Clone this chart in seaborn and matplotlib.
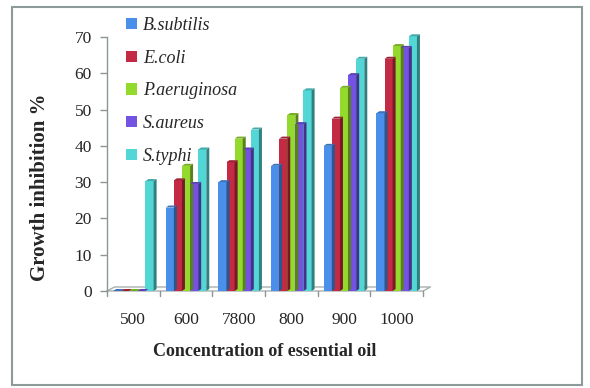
import numpy as np
import pandas as pd
import matplotlib
matplotlib.use("Agg")
import matplotlib.pyplot as plt
from matplotlib.patches import Polygon, Rectangle
import matplotlib.colors as mcolors
import seaborn as sns

concentrations = ["500", "600", "7800", "800", "900", "1000"]
organisms = ["B.subtilis", "E.coli", "P.aeruginosa", "S.aureus", "S.typhi"]
b_subtilis = [0, 23, 30, 34.5, 40, 49]
e_coli = [0, 30.5, 35.5, 42, 47.5, 64]
p_aeruginosa = [0, 34.5, 42, 48.5, 56, 67.5]
s_aureus = [0, 29.5, 39, 46, 59.5, 67]
s_typhi = [30.3, 39, 44.5, 55.3, 64, 70.2]
yticks = [0, 10, 20, 30, 40, 50, 60, 70]
colors = ["#4A8FEA", "#C42A44", "#94DA2C", "#7452E2", "#52D6D6"]

series = [b_subtilis, e_coli, p_aeruginosa, s_aureus, s_typhi]
df = pd.DataFrame({
    "conc": np.repeat([concentrations], len(organisms), axis=0).ravel(),
    "org": np.repeat(organisms, len(concentrations)),
    "val": np.concatenate(series),
})

sns.set_theme(style="white")
plt.rcParams["font.family"] = ["Liberation Serif", "DejaVu Serif"]

fig = plt.figure(figsize=(5.9, 3.88), dpi=100)
AX_W = 316
ax = fig.add_axes([107/590, 1-291/388, AX_W/590, 254/388])

sns.barplot(data=df, x="conc", y="val", hue="org", order=concentrations,
            hue_order=organisms, palette=colors, width=0.77, ax=ax,
            saturation=1, linewidth=0, legend=True)

ax.set_ylim(0, 70)
ax.set_xlim(-0.5, 5.5)

# 3D-ish side and top faces derived from each bar
px_x = 6 / float(AX_W)   # data units per pixel in x
px_y = 70 / 254.0
dx, dy = 3 * px_x, 2 * px_y
for p in list(ax.patches):
    if not isinstance(p, Rectangle):
        continue
    x0, w, h = p.get_x(), p.get_width(), p.get_height()
    if w <= 0:
        continue
    p.set_clip_on(False)
    fc = np.array(mcolors.to_rgb(p.get_facecolor()))
    side = Polygon([(x0 + w, 0), (x0 + w + dx, dy), (x0 + w + dx, h + dy), (x0 + w, h)],
                   closed=True, facecolor=fc * 0.6, edgecolor="none",
                   zorder=p.get_zorder(), clip_on=False)
    top = Polygon([(x0, h), (x0 + dx, h + dy), (x0 + w + dx, h + dy), (x0 + w, h)],
                  closed=True, facecolor=fc * 0.8, edgecolor="none",
                  zorder=p.get_zorder(), clip_on=False)
    ax.add_patch(side)
    ax.add_patch(top)

# floor outline
floor_c = "#A8B0B0"
ax.plot([-0.5, 5.5, 5.5 + 2.5 * dx, -0.5 + 2.5 * dx, -0.5],
        [0, 0, 2 * dy, 2 * dy, 0], color=floor_c, lw=1.0, clip_on=False, zorder=0.5)

for s in ["top", "right", "bottom"]:
    ax.spines[s].set_visible(False)
ax.spines["left"].set_color("#8C9696")
ax.spines["left"].set_linewidth(1.0)

ax.set_yticks(yticks)
ax.set_yticklabels([str(v) for v in yticks], fontsize=12.5)
ax.set_xticks(range(len(concentrations)))
ax.set_xticklabels(concentrations, fontsize=12.5)
ax.tick_params(axis="x", length=0, pad=15)
ax.tick_params(axis="y", length=5, width=1, color="#8C9696", left=True, pad=6)
# group boundary ticks
for k in range(len(concentrations) + 1):
    ax.plot([k - 0.5, k - 0.5], [0, -5 * px_y], color="#8C9696", lw=1, clip_on=False)

ax.set_xlabel("Concentration of essential oil", fontsize=13, fontweight="bold", labelpad=11)
ax.set_ylabel("Growth inhibition %", fontsize=15, fontweight="bold")
ax.yaxis.set_label_coords(-0.18, 0.41)

leg = ax.get_legend()
handles, labels = ax.get_legend_handles_labels()
leg.remove()
fig.legend(handles, labels, loc="upper left", bbox_to_anchor=(126/590, 1 - 17/388),
           frameon=False, prop={"style": "italic", "size": 13}, labelspacing=0.87,
           handlelength=0.6, handleheight=0.6, handletextpad=0.35, borderpad=0,
           borderaxespad=0)

fig.patches.append(Rectangle((12/590, 3/388), 570/590, 378/388, transform=fig.transFigure,
                             fill=False, edgecolor="#8C9A9A", lw=1.5))

fig.savefig("out.png", dpi=100)
